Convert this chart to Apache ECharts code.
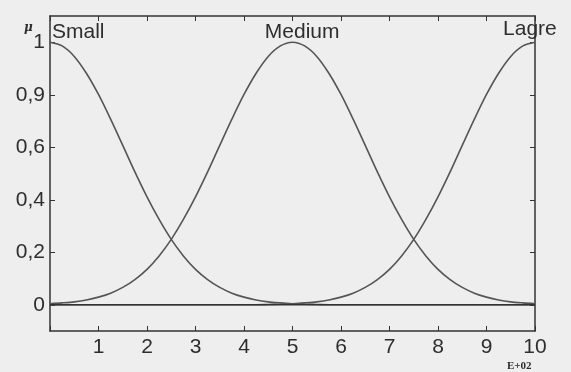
<!DOCTYPE html>
<html><head><meta charset="utf-8">
<script src="https://cdn.jsdelivr.net/npm/echarts@6/dist/echarts.min.js"></script>
<style>html,body{margin:0;padding:0;background:#eeeeee;}#c{width:571px;height:372px;}</style>
</head><body><div id="c"></div>
<script>
// x positions (units of E+02)
var xValues = [0,0.25,0.5,0.75,1,1.25,1.5,1.75,2,2.25,2.5,2.75,3,3.25,3.5,3.75,4,4.25,4.5,4.75,5,5.25,5.5,5.75,6,6.25,6.5,6.75,7,7.25,7.5,7.75,8,8.25,8.5,8.75,9,9.25,9.5,9.75,10];
var smallValues = [1,0.986,0.946,0.882,0.801,0.707,0.607,0.506,0.411,0.325,0.249,0.186,0.135,0.096,0.066,0.044,0.029,0.018,0.011,0.007,0.004,0.002,0.001,0,0,0,0,0,0,0,0,0,0,0,0,0,0,0,0,0,0];
var mediumValues = [0.004,0.007,0.011,0.018,0.029,0.044,0.066,0.096,0.135,0.186,0.249,0.325,0.411,0.506,0.607,0.707,0.801,0.882,0.946,0.986,1,0.986,0.946,0.882,0.801,0.707,0.607,0.506,0.411,0.325,0.249,0.186,0.135,0.096,0.066,0.044,0.029,0.018,0.011,0.007,0.004];
var largeValues = [0,0,0,0,0,0,0,0,0,0,0,0,0,0,0,0,0,0,0.001,0.002,0.004,0.007,0.011,0.018,0.029,0.044,0.066,0.096,0.135,0.186,0.249,0.325,0.411,0.506,0.607,0.707,0.801,0.882,0.946,0.986,1];
var seriesNames = ['Small','Medium','Lagre'];
var nameAnchors = [[0.04,1.04],[5.2,1.04],[9.34,1.05]];
var nameSides = ['right','inside','right'];
var yTickValues = [0,0.2,0.4,0.6,0.8,1];
var yTickLabels = ['0','0,2','0,4','0,6','0,9','1'];
var xTickLabels = ['','1','2','3','4','5','6','7','8','9','10'];

var ink = '#2e2e2e';
var curve = '#555555';
function pairs(v){ return xValues.map(function(x,i){ return [x, v[i]]; }); }
var all = [smallValues, mediumValues, largeValues];
var series = all.map(function(v,i){
  return {
    type:'line', data:pairs(v), smooth:0.3, showSymbol:false, silent:true,
    lineStyle:{color:curve, width:1.6},
    markPoint:{
      silent:true, symbol:'circle', symbolSize:0.1,
      itemStyle:{color:'rgba(0,0,0,0)'},
      label:{show:true, formatter:seriesNames[i], position:nameSides[i], distance:0,
        color:ink, fontSize:21, fontFamily:'Liberation Sans, Arial, sans-serif'},
      data:[{coord:nameAnchors[i]}]
    }
  };
});
series.push({
  type:'line', data:[[0,0],[10,0]], showSymbol:false, silent:true,
  lineStyle:{color:'#333', width:1.6}
});

var chart = echarts.init(document.getElementById('c'));
var axFont = {color:ink, fontSize:21, fontFamily:'Liberation Sans, Arial, sans-serif'};
chart.setOption({
  backgroundColor:'#eeeeee',
  animation:false,
  grid:{left:50, right:36, top:16, bottom:41, containLabel:false},
  xAxis:[{
    type:'value', min:0, max:10, interval:1, position:'bottom',
    axisLine:{onZero:false, lineStyle:{color:'#333', width:1.5}},
    axisTick:{inside:true, length:5, lineStyle:{color:'#333'}},
    axisLabel:Object.assign({margin:6, formatter:function(v){return xTickLabels[Math.round(v)];}}, axFont),
    splitLine:{show:false}
  },{
    type:'value', min:0, max:10, interval:1, position:'top',
    axisLine:{onZero:false, lineStyle:{color:'#333', width:1.5}},
    axisTick:{inside:true, length:5, lineStyle:{color:'#333'}},
    axisLabel:{show:false}, splitLine:{show:false}
  }],
  yAxis:[{
    type:'value', min:-0.1, max:1.1, position:'left',
    axisLine:{onZero:false, lineStyle:{color:'#333', width:1.5}},
    axisTick:{inside:true, length:5, customValues:yTickValues, lineStyle:{color:'#333'}},
    axisLabel:Object.assign({margin:5, padding:[6,0,0,0], customValues:yTickValues,
      formatter:function(v){ var i = yTickValues.findIndex(function(t){return Math.abs(t-v)<1e-6;}); return i<0?'':yTickLabels[i]; }}, axFont),
    splitLine:{show:false}
  },{
    type:'value', min:-0.1, max:1.1, position:'right',
    axisLine:{onZero:false, lineStyle:{color:'#333', width:1.5}},
    axisTick:{inside:true, length:5, customValues:yTickValues, lineStyle:{color:'#333'}},
    axisLabel:{show:false}, splitLine:{show:false}
  }],
  graphic:[
    {type:'text', left:24, top:22, style:{text:'μ', fill:ink, font:'italic bold 12px "DejaVu Serif", serif'}},
    {type:'text', left:507, top:361, style:{text:'E+02', fill:ink, font:'bold 11px "Liberation Serif", serif'}}
  ],
  series:series
});
</script></body></html>
